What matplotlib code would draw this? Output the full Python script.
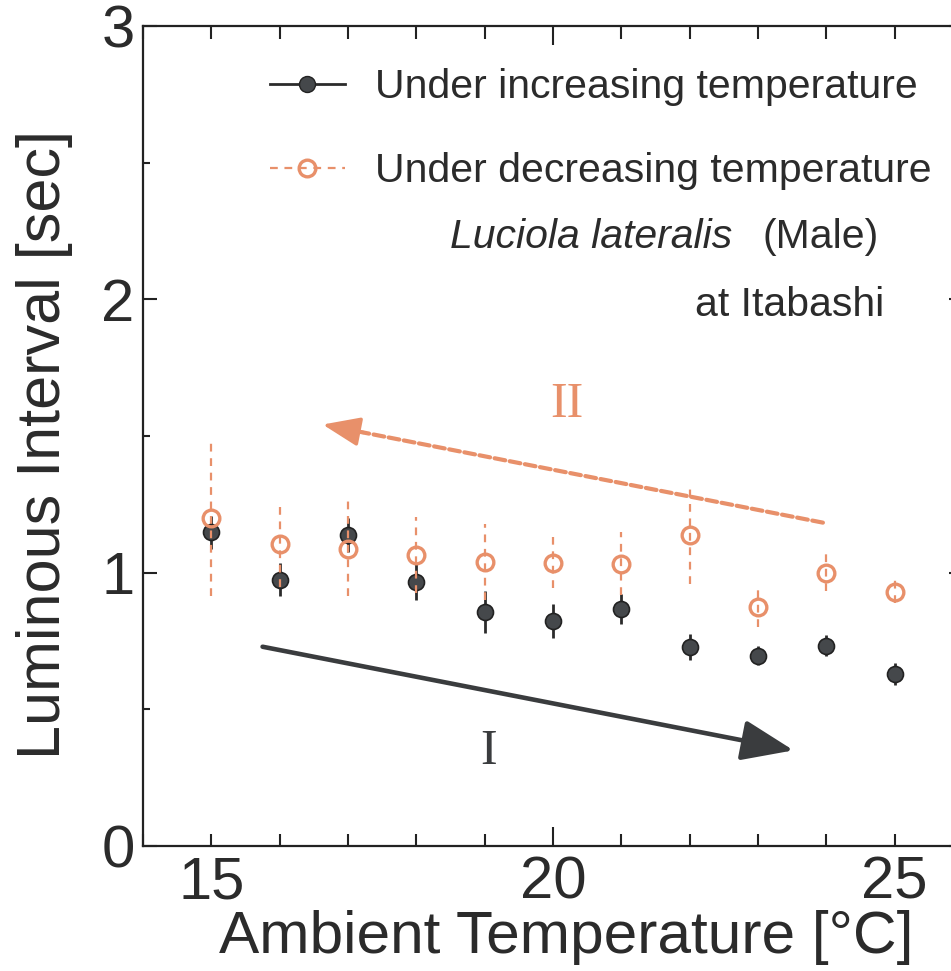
import matplotlib
matplotlib.use("Agg")
import matplotlib.pyplot as plt
from matplotlib.lines import Line2D
from matplotlib.ticker import MultipleLocator

plt.rcParams["font.family"] = ["Liberation Sans", "DejaVu Sans"]

# temperatures [deg C]
temps = [15, 16, 17, 18, 19, 20, 21, 22, 23, 24, 25]
# under increasing temperature
inc_mean = [1.147, 0.974, 1.139, 0.967, 0.857, 0.824, 0.866, 0.729, 0.696, 0.733, 0.630]
inc_err = [0.062, 0.060, 0.062, 0.066, 0.076, 0.062, 0.055, 0.047, 0.035, 0.038, 0.040]
# under decreasing temperature
dec_mean = [1.200, 1.106, 1.088, 1.066, 1.040, 1.037, 1.033, 1.139, 0.875, 1.000, 0.930]
dec_err = [0.285, 0.158, 0.175, 0.139, 0.139, 0.092, 0.115, 0.180, 0.072, 0.067, 0.042]

# trend arrows (tail -> tip) in data units
arrow_i = ((15.75, 0.729), (23.52, 0.350))
arrow_ii = ((23.95, 1.183), (16.63, 1.542))

DARK = "#2b2b2b"
FILL = "#45484b"
ORANGE = "#e8906a"

fig = plt.figure(figsize=(9.51, 9.71), dpi=100)
# right spine sits just past the image edge, as in the scanned figure
ax = fig.add_axes([143 / 951, 125 / 971, 820 / 951, 820 / 971])

ax.errorbar(temps, inc_mean, yerr=inc_err, fmt="o", color=DARK, ecolor=DARK,
            elinewidth=2.0, capsize=0, markersize=11.5, markerfacecolor=FILL,
            markeredgecolor="#222222", markeredgewidth=1.2, zorder=3)
dec = ax.errorbar(temps, dec_mean, yerr=dec_err, fmt="o", color=ORANGE, ecolor=ORANGE,
                  elinewidth=1.6, capsize=0, markersize=12, markerfacecolor="none",
                  markeredgecolor=ORANGE, markeredgewidth=2.4, zorder=4)
dec[2][0].set_linestyle((0, (3.5, 3.0)))

ax.annotate("", xy=arrow_i[1], xytext=arrow_i[0],
            arrowprops=dict(arrowstyle="-|>,head_length=3.2,head_width=1.25",
                            mutation_scale=10, lw=3.3, color="#3a3c3e",
                            shrinkA=0, shrinkB=0, capstyle="round"))
# dashed shaft, then a solid head on top
(tx, ty), (hx, hy) = arrow_ii
ax.annotate("", xy=(hx + 0.3, hy - 0.3 * (ty - hy) / (hx - tx)), xytext=(tx, ty),
            arrowprops=dict(arrowstyle="-", lw=3.0, color=ORANGE,
                            linestyle=(0, (2.6, 1.1)), shrinkA=0, shrinkB=0))
ax.annotate("", xy=(hx, hy), xytext=(hx + 0.6, hy - 0.6 * (ty - hy) / (hx - tx)),
            arrowprops=dict(arrowstyle="-|>,head_length=2.3,head_width=0.9",
                            mutation_scale=10, lw=2.5, color=ORANGE,
                            shrinkA=0, shrinkB=0))
ax.text(19.05, 0.344, "I", fontsize=36, family="Liberation Serif", color="#3a3c3e",
        ha="center", va="center")
ax.text(20.21, 1.615, "II", fontsize=36, family="Liberation Serif", color=ORANGE,
        ha="center", va="center")

handles = [
    Line2D([], [], color=DARK, lw=2.0, marker="o", markersize=11.5,
           markerfacecolor=FILL, markeredgecolor="#222222"),
    Line2D([], [], color=ORANGE, lw=1.6, ls=(0, (3.5, 3.0)), marker="o", markersize=12,
           markerfacecolor="none", markeredgecolor=ORANGE, markeredgewidth=2.4),
]
ax.legend(handles, ["Under increasing temperature", "Under decreasing temperature"],
          loc="upper left", bbox_to_anchor=((270 - 143) / 820, (846 - 68) / 820),
          frameon=False, fontsize=29.5, handlelength=1.83, handletextpad=0.73,
          labelspacing=1.12, borderpad=0, borderaxespad=0, labelcolor=DARK)

ax.text(22.63, 2.228, "Luciola lateralis", fontsize=29.5, style="italic", color=DARK,
        ha="right", va="center")
ax.text(23.07, 2.228, "(Male)", fontsize=29.5, color=DARK, ha="left", va="center")
ax.text(22.08, 1.98, "at Itabashi", fontsize=29.5, color=DARK, ha="left", va="center")

ax.set_xlim(14, 26)
ax.set_ylim(0, 3)
ax.set_xticks([15, 20, 25])
ax.xaxis.set_minor_locator(MultipleLocator(1))
ax.set_yticks([0, 1, 2, 3])
ax.yaxis.set_minor_locator(MultipleLocator(0.5))
ax.tick_params(axis="both", which="both", direction="in", top=True, right=True,
               width=1.5, colors="#222222", labelcolor=DARK, labelsize=43)
ax.tick_params(axis="x", which="major", length=9, pad=7)
ax.tick_params(axis="x", which="minor", length=9)
ax.tick_params(axis="y", which="major", length=10, pad=6)
ax.tick_params(axis="y", which="minor", length=5)
# the 20 degree tick is drawn longer than the others
mid = ax.xaxis.get_major_ticks()[1]
mid.tick1line.set_markersize(14)
mid.tick2line.set_markersize(14)
for s in ax.spines.values():
    s.set_linewidth(1.6)
    s.set_color("#222222")

fig.text(45 / 951, 1 - 444 / 971, "Luminous Interval [sec]", rotation=90, fontsize=44,
         color=DARK, ha="center", va="center")
fig.text(566 / 951, 1 - 937 / 971, "Ambient Temperature [°C]", fontsize=43.5,
         color=DARK, ha="center", va="center")

fig.savefig("out.png", dpi=100)
